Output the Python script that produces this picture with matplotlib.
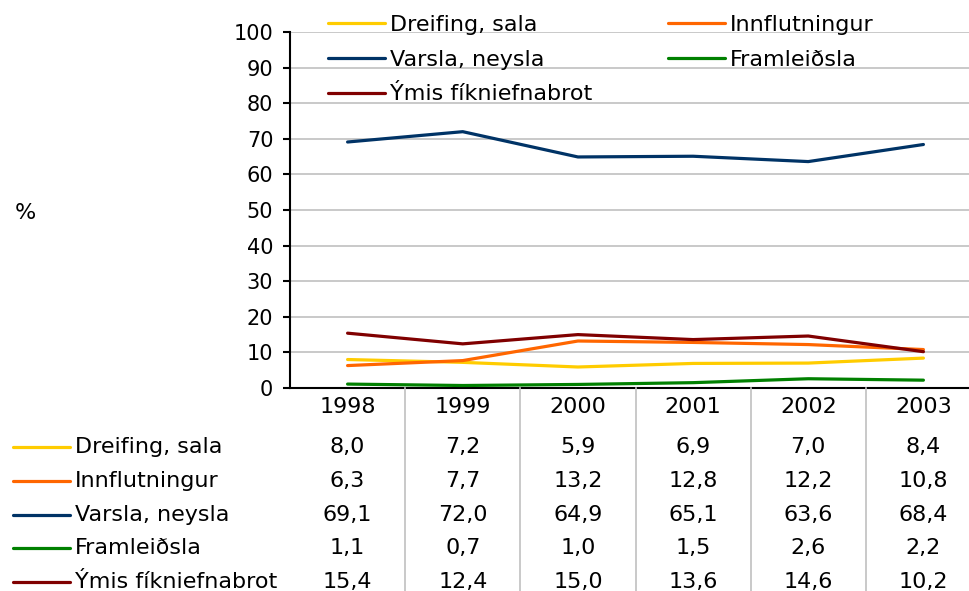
import matplotlib
matplotlib.use("Agg")
import matplotlib.pyplot as plt
from matplotlib.transforms import blended_transform_factory
from matplotlib.lines import Line2D

years = ["1998", "1999", "2000", "2001", "2002", "2003"]
dreifing = [8.0, 7.2, 5.9, 6.9, 7.0, 8.4]
innflutningur = [6.3, 7.7, 13.2, 12.8, 12.2, 10.8]
varsla = [69.1, 72.0, 64.9, 65.1, 63.6, 68.4]
framleidsla = [1.1, 0.7, 1.0, 1.5, 2.6, 2.2]
ymis = [15.4, 12.4, 15.0, 13.6, 14.6, 10.2]

series_names = ["Dreifing, sala", "Innflutningur", "Varsla, neysla", "Framleiðsla", "Ýmis fíkniefnabrot"]
series_values = [dreifing, innflutningur, varsla, framleidsla, ymis]
colors = ["#FFCC00", "#FF6600", "#003366", "#008000", "#800000"]
yticks = [0, 10, 20, 30, 40, 50, 60, 70, 80, 90, 100]

W, H = 969, 591
fig = plt.figure(figsize=(W / 100, H / 100), dpi=100)
plt.rcParams['font.family'] = ['DejaVu Sans']

left, right, top, bottom = 290, 981, 32, 388
ax = fig.add_axes([left / W, 1 - bottom / H, (right - left) / W, (bottom - top) / H])

x = list(range(len(years)))
handles = []
for name, vals, c in zip(series_names, series_values, colors):
    h, = ax.plot(x, vals, color=c, lw=2.3, label=name, solid_capstyle='round', zorder=3)
    handles.append(h)

ax.set_xlim(-0.5, len(years) - 0.5)
ax.set_ylim(0, 100)
ax.set_yticks(yticks)
ax.set_yticklabels([str(t) for t in yticks])
ax.set_xticks([])
ax.grid(axis='y', color='#c0c0c0', lw=1.2, zorder=0)
ax.set_axisbelow(True)
for s in ['top', 'right']:
    ax.spines[s].set_visible(False)
ax.spines['left'].set_linewidth(1.5)
ax.spines['bottom'].set_linewidth(1.5)
ax.tick_params(axis='y', length=5, width=1.5, pad=7, labelsize=15)

# legends (two columns)
fs = 16
col1 = [handles[0], handles[2], handles[4]]
col2 = [handles[1], handles[3]]
leg_kw = dict(loc='upper left', bbox_transform=fig.transFigure, frameon=False,
              fontsize=fs, handlelength=2.55, handletextpad=0.22,
              borderpad=0, borderaxespad=0, labelspacing=0.66)
leg1 = ax.legend(col1, [h.get_label() for h in col1],
                 bbox_to_anchor=(328 / W, 1 - 15 / H), **leg_kw)
ax.add_artist(leg1)
ax.legend(col2, [h.get_label() for h in col2],
          bbox_to_anchor=(668 / W, 1 - 15 / H), **leg_kw)

fig.text(15 / W, 1 - 213 / H, "%", fontsize=fs, ha='left', va='center')

# data table
tr = blended_transform_factory(ax.transData, fig.transFigure)
header_y = 407
row_ys = [447, 481, 515, 548, 582]
for i, yr in enumerate(years):
    fig.text(i, 1 - header_y / H, yr, transform=tr, fontsize=fs, ha='center', va='center')
for ry, name, vals, c in zip(row_ys, series_names, series_values, colors):
    fy = 1 - ry / H
    fig.add_artist(Line2D([13 / W, 70 / W], [fy, fy], color=c, lw=2.3,
                          solid_capstyle='round', transform=fig.transFigure))
    fig.text(75 / W, fy, name, fontsize=fs, ha='left', va='center')
    for i, v in enumerate(vals):
        fig.text(i, fy, f"{v:.1f}".replace('.', ','), transform=tr,
                 fontsize=fs, ha='center', va='center')

# vertical separators of the table
for i in range(len(years) - 1):
    fig.add_artist(Line2D([i + 0.5, i + 0.5], [1 - bottom / H, 0], transform=tr,
                          color='#c0c0c0', lw=1.2))

fig.savefig("out.png", dpi=100)
